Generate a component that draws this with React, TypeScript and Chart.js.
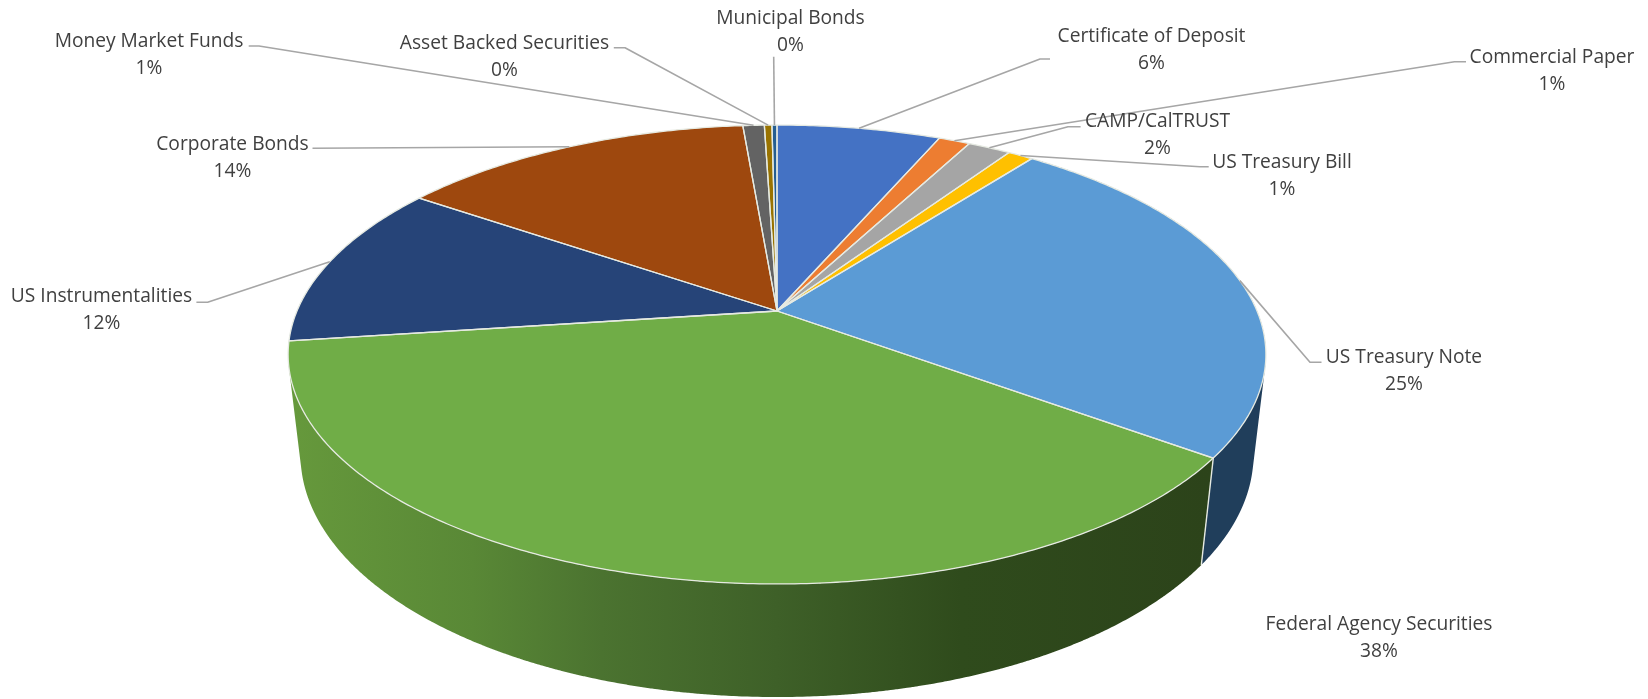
import React, { useEffect, useRef } from "react";
import { Chart, registerables } from "chart.js";

Chart.register(...registerables);

const categories = [
  "Certificate of Deposit", "Commercial Paper", "CAMP/CalTRUST", "US Treasury Bill",
  "US Treasury Note", "Federal Agency Securities", "US Instrumentalities", "Corporate Bonds",
  "Money Market Funds", "Asset Backed Securities", "Municipal Bonds",
];
const shares = [6.5, 1.25, 1.7, 1.0, 24.6, 37.85, 11.65, 14.1, 0.85, 0.3, 0.2];
const shownPercents = ["6%", "1%", "2%", "1%", "25%", "38%", "12%", "14%", "1%", "0%", "0%"];
const topColors = ["#4472C4", "#ED7D31", "#A5A5A5", "#FFC000", "#5B9BD5", "#70AD47", "#264478", "#9E480E", "#636363", "#997300", "#255E91"];

// label centre (x, first line y)
const labelAt: number[][] = [
  [1151.5, 37], [1552, 57.5], [1157.5, 122], [1282, 163], [1404, 358], [1379, 624.5],
  [101.5, 297], [232.5, 144.5], [149, 41.5], [504.5, 43.5], [790.5, 19],
];
// leader polyline, from the label end to the slice
const leaderVia: (number[][] | null)[] = [
  [[1050, 59], [1040, 59]],
  [[1466, 61.7], [1454.5, 61.7]],
  [[1080.6, 126.7], [1068, 126.7]],
  [[1208.7, 166.7], [1200, 166.7]],
  [[1321.5, 362.3], [1310, 362.3]],
  null,
  [[196.4, 302.3], [207.6, 302.3]],
  [[312.5, 148.3]],
  [[248.7, 46], [259, 46]],
  [[613.8, 47.7], [625, 47.7]],
  [[773.7, 56.7]],
];

// perspective of the disc
const CX = 777, CY = 311, A = 480, B = 221.2, K = 0.1896, M = 0.025, C = 101.3;
const project = (a: number, z: number) => {
  const u = Math.cos(a), v = Math.sin(a);
  const w = 1 - K * v + M * z;
  return [CX + (A * u) / w, CY + (B * v + C * z) / w];
};
const traceArc = (ctx: CanvasRenderingContext2D, a0: number, a1: number, z: number, first: boolean) => {
  const n = Math.max(2, Math.ceil(Math.abs(a1 - a0) / 0.01));
  for (let i = 0; i <= n; i++) {
    const p = project(a0 + ((a1 - a0) * i) / n, z);
    if (first && i === 0) ctx.moveTo(p[0], p[1]);
    else ctx.lineTo(p[0], p[1]);
  }
};

const FONT = "19.2px 'Open Sans'";
const TEXT = "#404040";
const LINE = "#A6A6A6";
const EDGE = "#E6EAE2";

const pie3d = {
  id: "pie3d",
  beforeDatasetsDraw(chart: any) {
    const ctx: CanvasRenderingContext2D = chart.ctx;
    const arcs = chart.getDatasetMeta(0).data;
    ctx.save();
    ctx.fillStyle = "#fff";
    ctx.fillRect(0, 0, chart.width, chart.height);

    const fed = ctx.createLinearGradient(288, 0, 1210, 0);
    ([[0, "#66993C"], [0.2, "#598836"], [0.34, "#4B7330"], [0.53, "#3E6028"], [0.73, "#2F4B1C"], [1, "#2C431A"]] as [number, string][]).forEach(([o, c]) => fed.addColorStop(o, c));
    const walls: Record<number, any> = { 4: "#203E5B", 5: fed };

    // the wall is swept from many thin quads so that the tangent edges are filled too
    [4, 5].forEach((i) => {
      const { startAngle: s, endAngle: e } = arcs[i];
      const n = Math.ceil((e - s) / 0.006);
      ctx.fillStyle = walls[i];
      ctx.beginPath();
      for (let j = 0; j < n; j++) {
        const a0 = s + ((e - s) * j) / n;
        const a1 = s + ((e - s) * (j + 1.4)) / n;
        const hi = Math.min(a1, e);
        const p = [project(a0, 0), project(hi, 0), project(hi, 1), project(a0, 1)];
        // keep every quad in the same winding so that overlaps stay filled
        const area = (p[1][0] - p[0][0]) * (p[2][1] - p[0][1]) - (p[1][1] - p[0][1]) * (p[2][0] - p[0][0]);
        const q = area < 0 ? [p[3], p[2], p[1], p[0]] : p;
        ctx.moveTo(q[0][0], q[0][1]);
        ctx.lineTo(q[1][0], q[1][1]);
        ctx.lineTo(q[2][0], q[2][1]);
        ctx.lineTo(q[3][0], q[3][1]);
        ctx.closePath();
      }
      ctx.fill();
    });
    // seam between the two walls
    const seamA = arcs[5].startAngle;
    const s0 = project(seamA, 0), s1 = project(seamA, 1);
    ctx.strokeStyle = EDGE;
    ctx.lineWidth = 1.4;
    ctx.beginPath();
    ctx.moveTo(s0[0], s0[1]);
    ctx.lineTo(s1[0], s1[1]);
    ctx.stroke();

    arcs.forEach((arc: any, i: number) => {
      ctx.beginPath();
      ctx.moveTo(CX, CY);
      traceArc(ctx, arc.startAngle, arc.endAngle, 0, false);
      ctx.closePath();
      ctx.fillStyle = topColors[i];
      ctx.fill();
    });
    ctx.strokeStyle = EDGE;
    ctx.lineWidth = 1.3;
    ctx.lineJoin = "round";
    arcs.forEach((arc: any) => {
      ctx.beginPath();
      ctx.moveTo(CX, CY);
      traceArc(ctx, arc.startAngle, arc.endAngle, 0, false);
      ctx.closePath();
      ctx.stroke();
    });

    // leaders
    ctx.strokeStyle = LINE;
    ctx.lineWidth = 1.6;
    arcs.forEach((arc: any, i: number) => {
      const via = leaderVia[i];
      if (!via) return;
      const p = project((arc.startAngle + arc.endAngle) / 2, 0);
      ctx.beginPath();
      via.forEach((q, j) => (j === 0 ? ctx.moveTo(q[0], q[1]) : ctx.lineTo(q[0], q[1])));
      ctx.lineTo(p[0], p[1]);
      ctx.stroke();
    });

    // labels
    ctx.font = FONT;
    ctx.fillStyle = TEXT;
    ctx.textAlign = "center";
    ctx.textBaseline = "middle";
    categories.forEach((name, i) => {
      const [x, y] = labelAt[i];
      ctx.fillText(name, x, y);
      ctx.fillText(shownPercents[i], x, y + 27);
    });
    ctx.restore();
    return false;
  },
};

export default function App() {
  const ref = useRef<HTMLCanvasElement>(null);
  useEffect(() => {
    const chart = new Chart(ref.current as HTMLCanvasElement, {
      type: "pie",
      data: { labels: categories, datasets: [{ data: shares, backgroundColor: topColors }] },
      options: {
        animation: false,
        responsive: false,
        rotation: 0,
        plugins: { legend: { display: false }, tooltip: { enabled: false } },
      },
      plugins: [pie3d as any],
    });
    return () => chart.destroy();
  }, []);
  return (
    <div style={{ position: "absolute", left: 0, top: 0, width: 1648, height: 699, background: "#fff" }}>
      <canvas ref={ref} width={1648} height={699} style={{ display: "block" }} />
    </div>
  );
}
